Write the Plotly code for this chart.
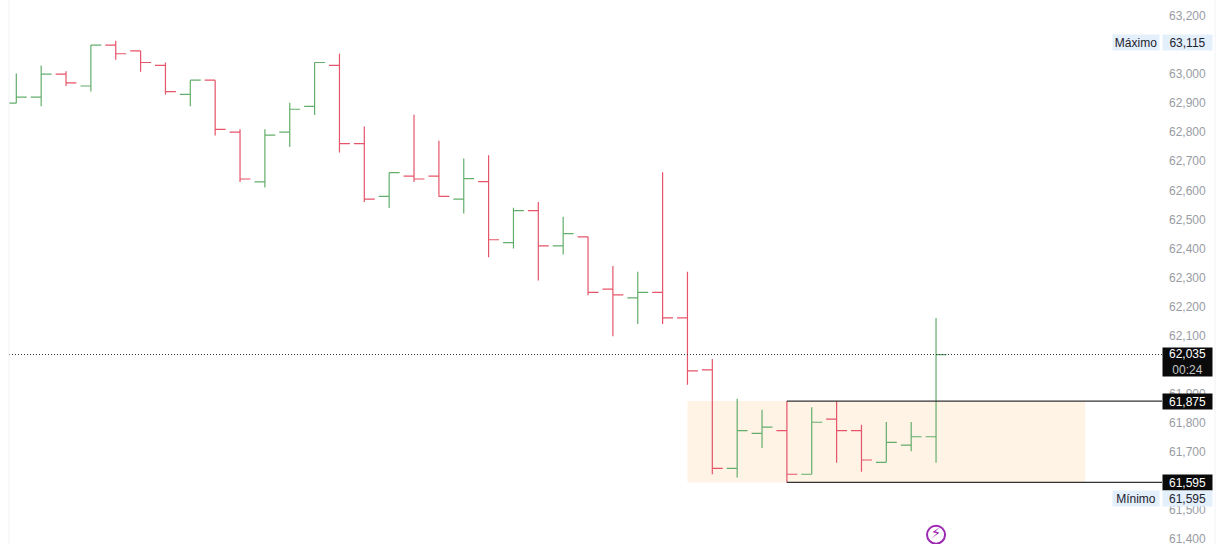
import plotly.graph_objects as go

index = list(range(38))
opens = [62900,62921,63000,62959,63100,63080,63030,62930,62979,62800,62629,62800,62889,63030,62761,62579,62649,62649,62570,62630,62420,62530,62409,62440,62260,62230,62249,62161,61982,61643,61764,61773,61623,61813,61773,61664,61723,61752]
highs = [63002,63030,63010,63100,63115,63080,63040,62979,62979,62810,62810,62901,63040,63070,62820,62661,62860,62771,62710,62721,62540,62560,62509,62440,62340,62320,62662,62320,62020,61883,61845,61875,61854,61875,61793,61803,61803,62161]
lows = [62900,62889,62959,62940,63049,63008,62930,62889,62789,62629,62610,62749,62859,62730,62560,62539,62629,62579,62520,62370,62400,62290,62379,62239,62098,62140,62140,61931,61623,61612,61713,61595,61623,61663,61632,61664,61702,61663]
closes = [62921,63000,62970,63100,63070,63040,62940,62979,62810,62639,62790,62879,63040,62761,62570,62661,62639,62579,62640,62430,62530,62409,62451,62249,62240,62249,62161,61979,61643,61773,61785,61623,61802,61773,61672,61733,61752,62035]

tick_vals = [v for v in range(61400, 63201, 100) if v not in (61600, 62000, 63100)]
y_range = [61383, 63255]
x_range = [-0.294, 46.09]
last_price = 62035
timer = "00:24"
box_high = 61875
box_low = 61595
day_high = 63115
day_low = 61595
zone_start = 27
line_start = 31
zone_end = 43
signal_bar = 37
signal_y = 61415

FONT = "Liberation Sans"
GREEN = "#64AE6C"
RED = "#E6546A"

fig = go.Figure()
fig.add_trace(go.Ohlc(
    x=index, open=opens, high=highs, low=lows, close=closes, tickwidth=0.42,
    increasing=dict(line=dict(color=GREEN, width=1.2)),
    decreasing=dict(line=dict(color=RED, width=1.2)),
    hoverinfo="skip", showlegend=False,
))
fig.add_trace(go.Scatter(
    x=[signal_bar], y=[signal_y], mode="markers+text", text=["⚡"],
    textposition="middle center",
    textfont=dict(color="#9C27B0", size=15, family="DejaVu Sans"),
    marker=dict(symbol="circle-open", size=18, color="#9C27B0", line=dict(width=2, color="#9C27B0")),
    hoverinfo="skip", showlegend=False,
))

fig.add_shape(type="rect", xref="x", yref="y", x0=zone_start, x1=zone_end, y0=box_low, y1=box_high,
              fillcolor="#FFF3E6", line_width=0, layer="below")
for level in (box_high, box_low):
    fig.add_shape(type="line", xref="x", yref="y", x0=line_start, x1=x_range[1], y0=level, y1=level,
                  line=dict(color="#333333", width=1.3))
fig.add_shape(type="line", xref="paper", yref="y", x0=0, x1=1, y0=last_price, y1=last_price,
              line=dict(color="#333333", width=1, dash="1px,2px"))
# pane borders
fig.add_shape(type="line", xref="paper", yref="paper", x0=0, x1=0, y0=0, y1=1,
              line=dict(color="#F0F2F5", width=1))
fig.add_shape(type="line", xref="paper", yref="paper", x0=1.0460, x1=1.0460, y0=0, y1=1,
              line=dict(color="#F0F2F5", width=1))

def badge(value, text, bg, fg, height=15, yshift=0):
    fig.add_annotation(xref="paper", yref="y", x=1, y=value, xanchor="left", yanchor="middle",
                       text=text, showarrow=False, bgcolor=bg, width=49, height=height, yshift=yshift,
                       borderpad=0, align="center", font=dict(family=FONT, size=12, color=fg))

def tag(value, text, yshift=0):
    fig.add_annotation(xref="paper", yref="y", x=1, y=value, xanchor="right", yanchor="middle",
                       text=text, showarrow=False, bgcolor="#E3EFFB", width=46, height=15, yshift=yshift,
                       xshift=-2, borderpad=0, align="center", font=dict(family=FONT, size=12, color="#1E222D"))

badge(last_price, f'62,035<br><span style="color:#C4C4C4">{timer}</span>', "#0A0A0A", "#FFFFFF", height=28, yshift=-7)
badge(box_high, f"{box_high:,}", "#0A0A0A", "#FFFFFF")
badge(box_low, f"{box_low:,}", "#0A0A0A", "#FFFFFF")
badge(day_high, f"{day_high:,}", "#E3EFFB", "#1E222D", yshift=-1.5)
badge(day_low, f"{day_low:,}", "#E3EFFB", "#1E222D", yshift=-16)
tag(day_high, "Máximo", yshift=-1.5)
tag(day_low, "Mínimo", yshift=-16)

fig.update_layout(
    width=1224, height=544, autosize=False,
    margin=dict(l=9, r=62, t=0, b=0, autoexpand=False),
    paper_bgcolor="white", plot_bgcolor="white",
    font=dict(family=FONT, size=12, color="#999CA3"),
    xaxis=dict(range=x_range, visible=False, rangeslider=dict(visible=False), showgrid=False),
    yaxis=dict(range=y_range, side="right", tickmode="array", tickvals=tick_vals,
               ticktext=[f"{v:,}" for v in tick_vals], showgrid=False, zeroline=False,
               showline=False, ticks="", ticklabelstandoff=6, ticklabeloverflow="allow",
               automargin=False,
               tickfont=dict(family=FONT, size=12, color="#999CA3")),
)
fig.write_html("out.html", config={"displayModeBar": False},
               post_script="document.body.style.margin='0';")
